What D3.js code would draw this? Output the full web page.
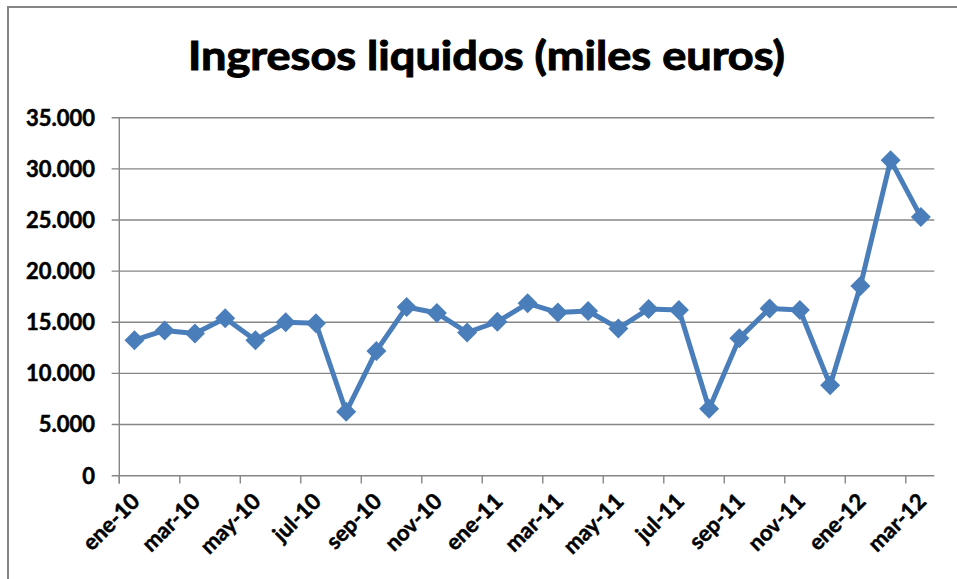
<!DOCTYPE html>
<html>
<head>
<meta charset="utf-8">
<script src="https://cdn.jsdelivr.net/npm/d3@7"></script>
<style>
  html, body { margin: 0; padding: 0; background: #fff; }
  svg { display: block; }
  text { font-family: Lato, "Open Sans", "Noto Sans", sans-serif; font-weight: bold; fill: #000; stroke: #000; }
</style>
</head>
<body>
<svg id="chart" width="957" height="579"></svg>
<script>
const title = "Ingresos liquidos (miles euros)";
const months = ["ene-10","feb-10","mar-10","abr-10","may-10","jun-10","jul-10","ago-10","sep-10","oct-10","nov-10","dic-10",
                "ene-11","feb-11","mar-11","abr-11","may-11","jun-11","jul-11","ago-11","sep-11","oct-11","nov-11","dic-11",
                "ene-12","feb-12","mar-12"];
const values = [13250, 14200, 13900, 15400, 13250, 15000, 14900, 6250, 12200, 16500, 15900, 14000,
                15050, 16850, 15950, 16100, 14400, 16300, 16200, 6550, 13450, 16350, 16200, 8850,
                18550, 30850, 25300];
const yTicks = [0, 5000, 10000, 15000, 20000, 25000, 30000, 35000];
const xLabelMonths = months.filter((m, i) => i % 2 === 0);

(function () {
const svg = d3.select("#chart");
const W = 957, H = 579;
const mLeft = 119.3, mRight = 936, mTop = 117.7, mBottom = 475.7;
const gridRight = 934.3;
const gray = "#868686";
const blue = "#4A7EBB";

svg.append("rect").attr("width", W).attr("height", H).attr("fill", "#fff");

// outer chart border (extends beyond the frame right and bottom)
svg.append("path")
  .attr("d", `M8,${H + 5} L8,7 L${W + 5},7`)
  .attr("fill", "none").attr("stroke", gray).attr("stroke-width", 2);

const x = d3.scaleBand().domain(months).range([mLeft, mRight]).padding(0);
const y = d3.scaleLinear().domain([0, 35000]).range([mBottom, mTop]);

const loc = d3.formatLocale({decimal: ",", thousands: ".", grouping: [3], currency: ["", "€"]});
const fmt = loc.format(",d");

// gridlines
svg.append("g").selectAll("line").data(yTicks.filter(d => d > 0)).join("line")
  .attr("x1", mLeft - 7.6).attr("x2", gridRight)
  .attr("y1", d => y(d)).attr("y2", d => y(d))
  .attr("stroke", gray).attr("stroke-width", 1.4);

// x axis line with tick at 0
svg.append("line")
  .attr("x1", mLeft - 7.6).attr("x2", gridRight)
  .attr("y1", y(0)).attr("y2", y(0))
  .attr("stroke", gray).attr("stroke-width", 1.4);

// y axis line
svg.append("line")
  .attr("x1", mLeft).attr("x2", mLeft)
  .attr("y1", y(35000)).attr("y2", y(0) + 7.7)
  .attr("stroke", gray).attr("stroke-width", 1.4);

// x tick marks every 2 months at band boundaries
svg.append("g").selectAll("line").data(xLabelMonths).join("line")
  .attr("x1", d => x(d)).attr("x2", d => x(d))
  .attr("y1", y(0)).attr("y2", y(0) + 7.7)
  .attr("stroke", gray).attr("stroke-width", 1.4);

// y tick labels
svg.append("g").selectAll("text").data(yTicks).join("text")
  .attr("x", 95).attr("y", d => y(d)).attr("dy", "0.36em")
  .attr("text-anchor", "end")
  .attr("font-size", 22).attr("stroke-width", 0.5)
  .text(d => fmt(d));

// x tick labels
svg.append("g").selectAll("text").data(xLabelMonths).join("text")
  .attr("transform", d => `translate(${x(d) + x.bandwidth() / 2 + 1},${497}) rotate(-45)`)
  .attr("dy", "0.36em")
  .attr("text-anchor", "end")
  .attr("font-size", 22).attr("stroke-width", 0.5)
  .text(d => d);

// line
const line = d3.line()
  .x((d, i) => x(months[i]) + x.bandwidth() / 2)
  .y(d => y(d));
svg.append("path").datum(values)
  .attr("d", line)
  .attr("fill", "none").attr("stroke", blue)
  .attr("stroke-width", 5).attr("stroke-linejoin", "round");

// diamond markers
const h = 10;
svg.append("g").selectAll("path").data(values).join("path")
  .attr("transform", (d, i) => `translate(${x(months[i]) + x.bandwidth() / 2},${y(d)})`)
  .attr("d", `M0,${-h} L${h},0 L0,${h} L${-h},0 Z`)
  .attr("fill", blue);

// title
svg.append("text")
  .attr("x", 486.5).attr("y", 70)
  .attr("text-anchor", "middle")
  .attr("font-size", 40).attr("stroke-width", 1)
  .attr("textLength", 597).attr("lengthAdjust", "spacingAndGlyphs")
  .text(title);
})();
</script>
</body>
</html>
